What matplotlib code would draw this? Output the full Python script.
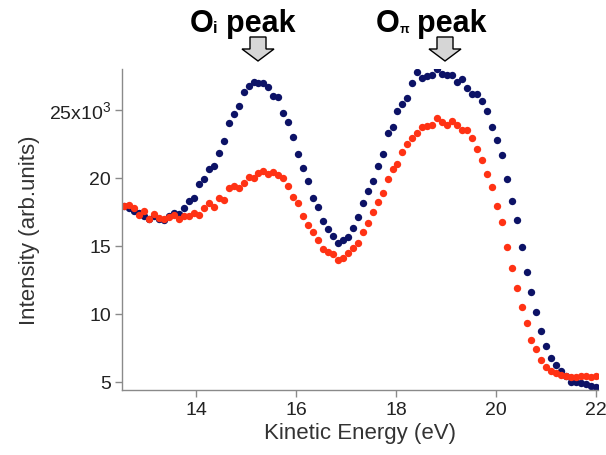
import numpy as np
import matplotlib
matplotlib.use("Agg")
import matplotlib.pyplot as plt
from matplotlib.patches import FancyArrow

plt.rcParams["font.family"] = ["Liberation Sans", "DejaVu Sans"]
plt.rcParams["mathtext.fontset"] = "custom"
plt.rcParams["mathtext.rm"] = "Liberation Sans"

# Kinetic energy grid (eV)
energy = np.linspace(12.57, 22.0, 96)

# Intensity in units of 10^3 counts
intensity_blue = [
    17.91, 17.79, 17.54, 17.42, 17.18, 16.98, 17.18, 16.98, 16.88, 17.18,
    17.42, 17.37, 17.79, 18.27, 18.52, 19.55, 19.91, 20.62, 20.89, 21.80,
    22.70, 24.06, 24.70, 25.30, 26.30, 26.74, 27.06, 26.98, 26.94, 26.69,
    26.01, 25.94, 24.79, 24.13, 22.98, 21.74, 20.76, 19.74, 18.52, 17.83,
    16.86, 16.25, 15.71, 15.23, 15.47, 15.64, 16.32, 17.13, 18.15, 19.00,
    19.79, 20.84, 21.74, 23.28, 23.77, 24.93, 25.42, 25.89, 26.94, 27.79,
    27.35, 27.47, 27.55, 27.99, 27.62, 27.55, 27.55, 27.06, 27.30, 26.57,
    26.16, 26.16, 25.67, 24.91, 23.72, 22.79, 21.69, 19.93, 18.27, 16.88,
    14.90, 13.08, 11.61, 10.15, 8.76, 7.66, 6.73, 6.24, 5.83, 5.46,
    5.02, 5.02, 4.93, 4.85, 4.73, 4.66,
]
intensity_red = [
    17.96, 18.00, 17.79, 17.25, 17.54, 16.98, 17.37, 17.05, 17.00, 17.13,
    17.27, 17.00, 17.18, 17.22, 17.42, 17.25, 17.76, 18.15, 17.83, 18.50,
    18.40, 19.25, 19.42, 19.25, 19.62, 20.10, 19.98, 20.35, 20.47, 20.28,
    20.40, 20.23, 19.98, 19.42, 18.60, 18.15, 17.18, 16.57, 16.03, 15.40,
    14.74, 14.54, 14.37, 14.00, 14.13, 14.49, 14.86, 15.23, 16.00, 16.69,
    17.47, 18.20, 18.88, 19.91, 20.67, 21.00, 21.89, 22.47, 22.96, 23.33,
    23.77, 23.84, 23.89, 24.42, 24.13, 23.89, 24.18, 23.89, 23.52, 23.52,
    22.91, 22.13, 21.32, 20.28, 19.30, 17.90, 16.76, 14.93, 13.40, 11.93,
    10.54, 9.37, 8.10, 7.42, 6.61, 6.12, 5.83, 5.66, 5.54, 5.46,
    5.39, 5.34, 5.42, 5.46, 5.39, 5.42,
]

y_ticks = [5, 10, 15, 20, 25]
y_tick_labels = ["5", "10", "15", "20", "25x10$^{3}$"]
x_ticks = [14, 16, 18, 20, 22]

W, H = 606.0, 456.0
fig = plt.figure(figsize=(W / 100, H / 100), dpi=100)
ax = fig.add_axes([0.2013, 0.1425, 0.7855, 0.704])

ax.plot(energy, intensity_blue, "o", color="#0c1266", ms=5.3, mew=0)
ax.plot(energy, intensity_red, "o", color="#ff3214", ms=5.3, mew=0)

ax.set_xlim(12.52, 22.04)
ax.set_ylim(4.41, 28.0)
ax.set_xticks(x_ticks)
ax.set_yticks(y_ticks)
ax.set_yticklabels(y_tick_labels)

grey = "#8a8a8a"
for side in ("top", "right"):
    ax.spines[side].set_visible(False)
for side in ("left", "bottom"):
    ax.spines[side].set_color(grey)
    ax.spines[side].set_linewidth(1.0)
ax.tick_params(axis="both", direction="out", color=grey, length=5,
               width=1.0, labelsize=14, labelcolor="#222222", pad=3)

ax.set_xlabel("Kinetic Energy (eV)", fontsize=16, color="#333333", labelpad=3)
ax.set_ylabel("Intensity (arb.units)", fontsize=16, color="#333333", labelpad=6)


def fig_text(x_px, y_px, s, size):
    fig.text(x_px / W, 1 - y_px / H, s, fontsize=size, fontweight="bold",
             color="black", ha="left", va="baseline")


# Peak annotations
fig_text(190, 32, "O", 22)
fig_text(213, 33, "i", 12)
fig_text(226, 32, "peak", 22)
fig_text(376, 32, "O", 22)
fig_text(400, 33, "\u03c0", 9)
fig_text(417, 32, "peak", 22)

for cx in (258.0, 445.0):
    arrow = FancyArrow(cx / W, 1 - 38 / H, 0, -24 / H, width=16 / W,
                       head_width=32 / W, head_length=12 / H,
                       length_includes_head=True, transform=fig.transFigure,
                       facecolor="#d6d6d6", edgecolor="black", linewidth=1.0)
    fig.add_artist(arrow)

fig.savefig("out.png", dpi=100)
